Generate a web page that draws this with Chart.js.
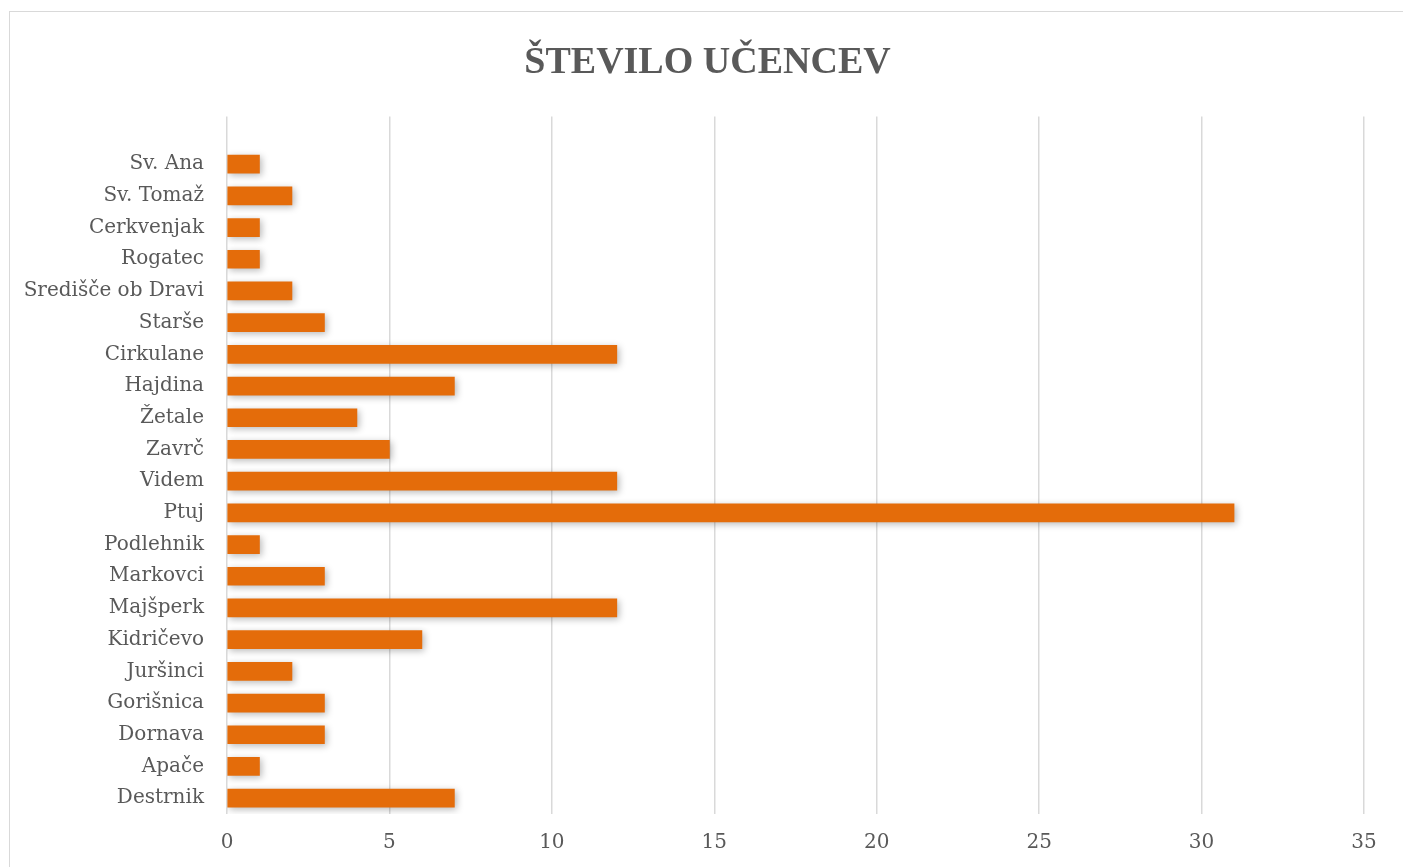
<!DOCTYPE html>
<html>
<head>
<meta charset="utf-8">
<script src="https://cdn.jsdelivr.net/npm/chart.js@4.4.1/dist/chart.umd.min.js"></script>
<style>
  html, body { margin: 0; padding: 0; background: #fff; overflow: hidden; }
  #frame { position: absolute; left: 9px; top: 11px; width: 1400px; height: 860px; border: 1.5px solid #d9d9d9; }
  #wrap { position: absolute; left: 0; top: 0; width: 1403px; height: 867px; }
</style>
</head>
<body>
<div id="frame"></div>
<div id="wrap"><canvas id="chart" width="1403" height="867"></canvas></div>
<script>
// --- DATA ---
const municipalities = ['', 'Sv. Ana', 'Sv. Tomaž', 'Cerkvenjak', 'Rogatec', 'Središče ob Dravi', 'Starše',
  'Cirkulane', 'Hajdina', 'Žetale', 'Zavrč', 'Videm', 'Ptuj', 'Podlehnik', 'Markovci',
  'Majšperk', 'Kidričevo', 'Juršinci', 'Gorišnica', 'Dornava', 'Apače', 'Destrnik'];
const pupils = [null, 1, 2, 1, 1, 2, 3, 12, 7, 4, 5, 12, 31, 1, 3, 12, 6, 2, 3, 3, 1, 7];
const xTicks = [0, 5, 10, 15, 20, 25, 30, 35];

const FONT = "'DejaVu Serif', 'Liberation Serif', serif";
const TITLE_FONT = "'Liberation Serif', serif";
const GREY = '#595959';

// soft shadow under the bars, like the office chart
const barShadow = {
  id: 'barShadow',
  beforeDatasetDraw(chart) {
    const ctx = chart.ctx;
    ctx.save();
    ctx.shadowColor = 'rgba(0,0,0,0.28)';
    ctx.shadowBlur = 7;
    ctx.shadowOffsetX = 2;
    ctx.shadowOffsetY = 2;
  },
  afterDatasetDraw(chart) {
    chart.ctx.restore();
  }
};

// centre the title over the whole frame, not over the padded area
const titleCentre = {
  id: 'titleCentre',
  afterLayout(chart) {
    if (chart.titleBlock) {
      chart.titleBlock.left = 0;
      chart.titleBlock.right = 1415;
    }
  }
};

new Chart(document.getElementById('chart'), {
  type: 'bar',
  data: {
    labels: municipalities,
    datasets: [{
      label: 'Število učencev',
      data: pupils,
      backgroundColor: '#E46C0A',
      barThickness: 18
    }]
  },
  plugins: [barShadow, titleCentre],
  options: {
    indexAxis: 'y',
    responsive: false,
    animation: false,
    layout: { padding: { left: 0, right: 39, top: 0, bottom: 0 } },
    plugins: {
      legend: { display: false },
      tooltip: { enabled: false },
      title: {
        display: true,
        text: 'ŠTEVILO UČENCEV',
        color: GREY,
        font: { family: TITLE_FONT, size: 38, weight: 'bold' },
        padding: { top: 40, bottom: 31 }
      }
    },
    scales: {
      x: {
        min: 0,
        max: 35,
        afterBuildTicks: s => { s.ticks = xTicks.map(v => ({ value: v })); },
        afterFit: s => { s.height = 53; },
        grid: { color: '#d9d9d9', lineWidth: 1.5, drawTicks: false },
        border: { display: false },
        ticks: { color: GREY, font: { family: FONT, size: 20 }, padding: 17 }
      },
      y: {
        afterFit: s => { s.width = 227; },
        grid: { display: false },
        border: { display: false },
        ticks: { color: GREY, font: { family: FONT, size: 20 }, padding: 15, autoSkip: false }
      }
    }
  }
});
</script>
</body>
</html>
